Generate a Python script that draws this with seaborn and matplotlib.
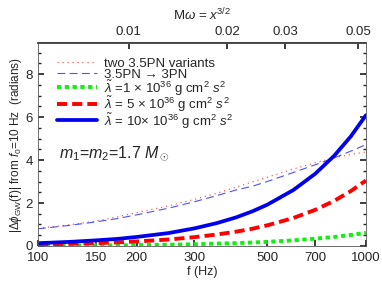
import matplotlib
matplotlib.use("Agg")
import matplotlib.pyplot as plt
import seaborn as sns
import pandas as pd

freq = [100, 125, 150, 175, 200, 250, 300, 350, 400, 450, 500, 600, 700, 800, 900, 1000]

# |delta phi| in radians
pn35_variants = [0.82, 0.99, 1.16, 1.36, 1.55, 1.87, 2.17, 2.45, 2.73, 2.98, 3.2, 3.58, 3.88, 4.1, 4.26, 4.38]
pn35_to_3 = [0.80, 0.96, 1.12, 1.28, 1.45, 1.76, 2.06, 2.34, 2.6, 2.78, 3.0, 3.42, 3.78, 4.1, 4.42, 4.72]
lam1 = [0.01, 0.02, 0.03, 0.03, 0.04, 0.06, 0.08, 0.11, 0.13, 0.16, 0.19, 0.26, 0.34, 0.42, 0.51, 0.61]
lam5 = [0.07, 0.10, 0.13, 0.17, 0.21, 0.30, 0.41, 0.53, 0.66, 0.80, 0.96, 1.30, 1.68, 2.10, 2.56, 3.05]
lam10 = [0.13, 0.19, 0.26, 0.33, 0.42, 0.60, 0.82, 1.06, 1.32, 1.61, 1.92, 2.60, 3.36, 4.20, 5.11, 6.09]

labels = [
    "two 3.5PN variants",
    "3.5PN \u2192 3PN",
    r"$\tilde{\lambda}$ =1 $\times$ 10$^{36}$ g cm$^2$ $s^2$",
    r"$\tilde{\lambda}$ = 5 $\times$ 10$^{36}$ g cm$^2$ $s^2$",
    r"$\tilde{\lambda}$ = 10$\times$ 10$^{36}$ g cm$^2$ $s^2$",
]
x_ticks = [100, 150, 200, 300, 500, 700, 1000]
top_ticks = [0.01, 0.02, 0.03, 0.05]
MW_PER_HZ = 1 / 18900.0  # M*omega per Hz for m1=m2=1.7 Msun

sns.set_theme(style="ticks")
plt.rcParams['font.family'] = ['Liberation Sans', 'DejaVu Sans']
plt.rcParams['mathtext.fontset'] = 'custom'
plt.rcParams['mathtext.rm'] = 'Liberation Sans'
plt.rcParams['mathtext.it'] = 'Liberation Sans:italic'
plt.rcParams['mathtext.bf'] = 'Liberation Sans:bold'

fig = plt.figure(figsize=(3.82, 2.87), dpi=100)
ax = fig.add_axes([0.0995, 0.143, 0.8585, 0.707])

series = [pn35_variants, pn35_to_3, lam1, lam5, lam10]
styles = [
    dict(color="#ff3b3b", lw=0.8, dashes=(1, 3.5)),
    dict(color="#5050ff", lw=0.8, dashes=(7, 4)),
    dict(color="#11ee11", lw=2.8, dashes=(1.1, 0.9)),
    dict(color="#ff0000", lw=2.8, dashes=(2.6, 1.3)),
    dict(color="#0000ee", lw=2.7, dashes=None),
]
for vals, lab, st in zip(series, labels, styles):
    df = pd.DataFrame({"f": freq, "phi": vals})
    sns.lineplot(data=df, x="f", y="phi", ax=ax, color=st["color"],
                 lw=st["lw"], label=lab)
    l = ax.get_lines()[-1]
    if st["dashes"] is not None:
        l.set_dashes(st["dashes"])

ax.set_xscale("log")
ax.set_xlim(100, 1000)
ax.set_ylim(0, 9.45)
ax.set_xticks(x_ticks)
ax.set_xticklabels([str(t) for t in x_ticks])
ax.minorticks_off()
ax.set_yticks([0, 2, 4, 6, 8])
ax.set_yticks([v * 0.5 for v in range(19)], minor=True)
ax.tick_params(which="both", direction="in", top=False, right=True, labelsize=9.5)
ax.tick_params(which="major", length=4)
ax.tick_params(axis="x", pad=4.5)
ax.tick_params(which="minor", length=2.5, axis="y")
for s in ax.spines.values():
    s.set_linewidth(0.6)
    s.set_color("#555555")

ax.set_xlabel("f (Hz)", fontsize=9, labelpad=1)
ax.set_ylabel(r"|$\Delta\phi_{\rm GW}$(f)| from $f_0$=10 Hz  (radians)", fontsize=8.5, labelpad=1)

top = ax.secondary_xaxis("top", functions=(lambda f: f * MW_PER_HZ, lambda m: m / MW_PER_HZ))
top.set_xticks(top_ticks)
top.set_xticklabels([str(t) for t in top_ticks])
top.minorticks_off()
top.tick_params(direction="in", length=4, labelsize=9.5)
top.set_xlabel(r"M$\omega$ = $x^{3/2}$", fontsize=9.5, labelpad=4)

ax.text(0.065, 0.435, r"$m_1$=$m_2$=1.7 $M_\odot$", transform=ax.transAxes, fontsize=11.5)

ax.legend(loc="upper left", frameon=False, fontsize=9.5, handlelength=3.0,
          handleheight=1.15, handletextpad=0.5, labelspacing=-0.22,
          borderaxespad=0.2, bbox_to_anchor=(0.035, 0.975))

fig.savefig("out.png", dpi=100)
